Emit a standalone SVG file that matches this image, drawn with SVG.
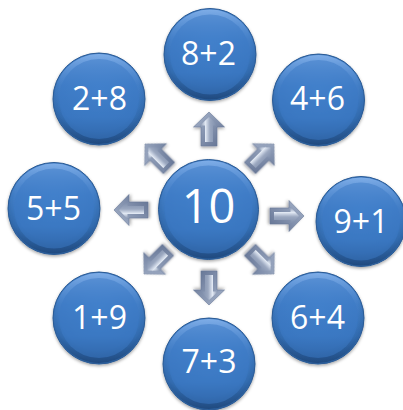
<svg xmlns="http://www.w3.org/2000/svg" width="403" height="410" viewBox="0 0 403 410">
<defs>
<radialGradient id="ballFill" cx="50%" cy="42%" r="58%">
<stop offset="0" stop-color="#4384cf"/>
<stop offset="0.75" stop-color="#3a78c2"/>
<stop offset="1" stop-color="#2c619f"/>
</radialGradient>
<linearGradient id="bevel" x1="0" y1="0" x2="0" y2="1">
<stop offset="0" stop-color="#8fbaf0" stop-opacity="0.8"/>
<stop offset="0.35" stop-color="#6a9ee0" stop-opacity="0.15"/>
<stop offset="0.7" stop-color="#1e4a80" stop-opacity="0.1"/>
<stop offset="1" stop-color="#1a3f70" stop-opacity="0.7"/>
</linearGradient>
<linearGradient id="arrOuter" x1="0" y1="0" x2="1" y2="1">
<stop offset="0" stop-color="#a8b5cc"/>
<stop offset="1" stop-color="#5f6f90"/>
</linearGradient>
<linearGradient id="arrInner" x1="0" y1="0" x2="1" y2="0">
<stop offset="0" stop-color="#7d8ca8"/>
<stop offset="0.3" stop-color="#e2e9f4"/>
<stop offset="0.55" stop-color="#9ba8c0"/>
<stop offset="1" stop-color="#7888a6"/>
</linearGradient>
<filter id="shadow" x="-20%" y="-20%" width="140%" height="140%">
<feDropShadow dx="0" dy="1.5" stdDeviation="1.8" flood-color="#000" flood-opacity="0.35"/>
</filter>
<g id="arrow">
<polygon points="0,-17 15.5,-2 8,-2 8,17 -8,17 -8,-2 -15.5,-2" fill="url(#arrOuter)" stroke="#6a7a98" stroke-width="0.6"/>
<polygon points="0,-12 9,-3.5 4,-3.5 4,13 -4,13 -4,-3.5 -9,-3.5" fill="url(#arrInner)"/>
</g>
</defs>
<style>
.ball{fill:url(#ballFill);stroke:#2a5a94;stroke-width:1;filter:url(#shadow)}
.bev{fill:url(#bevel)}
.lbl{font-family:"Open Sans","Liberation Sans",sans-serif;font-size:32px;fill:#ffffff;text-anchor:middle}
.big{font-size:47px}
.arr{filter:url(#shadow)}
</style>
<g id="connectors">
<use href="#arrow" class="arr" transform="translate(209,129)"/>
<use href="#arrow" class="arr" transform="translate(209,288) rotate(180)"/>
<use href="#arrow" class="arr" transform="translate(131,210) rotate(-90)"/>
<use href="#arrow" class="arr" transform="translate(287,216) rotate(90)"/>
<use href="#arrow" class="arr" transform="translate(157,156) rotate(-45)"/>
<use href="#arrow" class="arr" transform="translate(262,156) rotate(45)"/>
<use href="#arrow" class="arr" transform="translate(156,262) rotate(-135)"/>
<use href="#arrow" class="arr" transform="translate(262,262) rotate(135)"/>
</g>
<g id="n10"><circle class="ball" cx="208.5" cy="209.5" r="50"/><circle class="bev" cx="208.5" cy="209.5" r="49"/><circle cx="208.5" cy="209.5" r="44" fill="#3b7ac5" opacity="0.5"/><text class="lbl big" x="208.5" y="223">10</text></g>
<g id="n82"><circle class="ball" cx="210" cy="54.5" r="46"/><circle class="bev" cx="210" cy="54.5" r="45"/><circle cx="210" cy="54.5" r="40" fill="#3b7ac5" opacity="0.5"/><text class="lbl" x="208.5" y="65">8+2</text></g>
<g id="n28"><circle class="ball" cx="99" cy="99" r="46"/><circle class="bev" cx="99" cy="99" r="45"/><circle cx="99" cy="99" r="40" fill="#3b7ac5" opacity="0.5"/><text class="lbl" x="99.5" y="110">2+8</text></g>
<g id="n46"><circle class="ball" cx="318.5" cy="100" r="46"/><circle class="bev" cx="318.5" cy="100" r="45"/><circle cx="318.5" cy="100" r="40" fill="#3b7ac5" opacity="0.5"/><text class="lbl" x="317.5" y="110">4+6</text></g>
<g id="n55"><circle class="ball" cx="54" cy="208.5" r="46"/><circle class="bev" cx="54" cy="208.5" r="45"/><circle cx="54" cy="208.5" r="40" fill="#3b7ac5" opacity="0.5"/><text class="lbl" x="53.5" y="220">5+5</text></g>
<g id="n91"><circle class="ball" cx="361" cy="221.5" r="45"/><circle class="bev" cx="361" cy="221.5" r="44"/><circle cx="361" cy="221.5" r="39" fill="#3b7ac5" opacity="0.5"/><text class="lbl" x="361" y="233">9+1</text></g>
<g id="n19"><circle class="ball" cx="99" cy="318" r="46"/><circle class="bev" cx="99" cy="318" r="45"/><circle cx="99" cy="318" r="40" fill="#3b7ac5" opacity="0.5"/><text class="lbl" x="99.5" y="329">1+9</text></g>
<g id="n64"><circle class="ball" cx="318" cy="318" r="46"/><circle class="bev" cx="318" cy="318" r="45"/><circle cx="318" cy="318" r="40" fill="#3b7ac5" opacity="0.5"/><text class="lbl" x="317.5" y="329">6+4</text></g>
<g id="n73"><circle class="ball" cx="209" cy="364" r="46"/><circle class="bev" cx="209" cy="364" r="45"/><circle cx="209" cy="364" r="40" fill="#3b7ac5" opacity="0.5"/><text class="lbl" x="209" y="373">7+3</text></g>
</svg>
